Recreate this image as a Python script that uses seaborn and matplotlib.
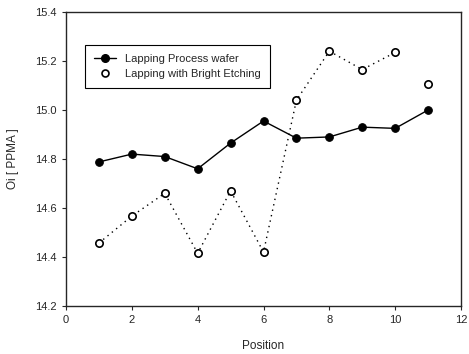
import numpy as np
import pandas as pd
import matplotlib
matplotlib.use('Agg')
import matplotlib.pyplot as plt
import seaborn as sns
from matplotlib.lines import Line2D

position = [1, 2, 3, 4, 5, 6, 7, 8, 9, 10, 11]
lapping = [14.788, 14.82, 14.81, 14.76, 14.865, 14.955, 14.885, 14.89, 14.93, 14.925, 15.0]
bright = [14.457, 14.567, 14.66, 14.415, 14.67, 14.42, 15.04, 15.24, 15.165, 15.235, 15.105]

df = pd.DataFrame({'Position': position, 'lapping': lapping, 'bright': bright})

sns.set_style('ticks')
plt.rcParams['font.family'] = ['Liberation Sans', 'DejaVu Sans']

fig = plt.figure(figsize=(4.69, 3.54), dpi=100)
ax = fig.add_axes([0.1407, 0.1356, 0.8423, 0.8305])

sns.lineplot(data=df, x='Position', y='lapping', ax=ax, color='black', lw=1.0,
             marker='o', markersize=5.5, markeredgecolor='black', markerfacecolor='black')
# dotted line stops at position 10 in the original
sns.lineplot(data=df[df.Position <= 10], x='Position', y='bright', ax=ax, color='black',
             lw=1.0, linestyle=(0, (1, 3)))
sns.scatterplot(data=df, x='Position', y='bright', ax=ax, s=28, facecolor='white',
                edgecolor='black', linewidth=1.2, zorder=3)

ax.set_xlim(0, 12)
ax.set_ylim(14.2, 15.4)
ax.set_xticks(range(0, 13, 2))
ax.set_yticks(np.arange(14.2, 15.41, 0.2))
ax.set_yticklabels(['14.2', '14.4', '14.6', '14.8', '15.0', '15.2', '15.4'])
ax.tick_params(labelsize=8, length=3, width=0.8)
for s in ax.spines.values():
    s.set_linewidth(1.0)
ax.set_xlabel('Position', fontsize=8.5, labelpad=11)
ax.set_ylabel('Oi [ PPMA ]', fontsize=8.5, labelpad=12)

handles = [Line2D([], [], color='black', lw=1, marker='o', markersize=5.5),
           Line2D([], [], color='black', lw=0, marker='o', markersize=5,
                  markerfacecolor='white', markeredgewidth=1.2)]
leg = ax.legend(handles, ['Lapping Process wafer', 'Lapping with Bright Etching'],
                loc='upper left', bbox_to_anchor=(0.048, 0.888), fontsize=8,
                frameon=True, fancybox=False, edgecolor='black', framealpha=1,
                handlelength=2.0, borderpad=0.8, labelspacing=0.45, borderaxespad=0)
leg.get_frame().set_linewidth(0.8)

fig.savefig('out.png', dpi=100)
